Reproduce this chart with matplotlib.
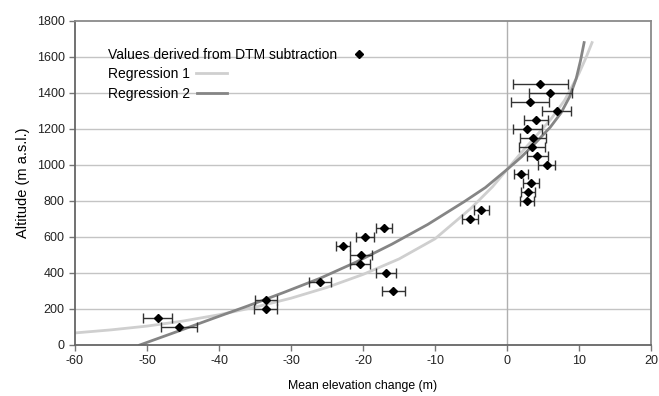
import matplotlib
matplotlib.use('Agg')
import matplotlib.pyplot as plt
import numpy as np

plt.rcParams['font.family'] = ['Liberation Sans', 'DejaVu Sans']
plt.rcParams['axes.unicode_minus'] = False

# DTM subtraction values: altitude (m a.s.l.), mean elevation change (m), error
altitude = [1450, 1400, 1350, 1300, 1250, 1200, 1150, 1100, 1050, 1000, 950, 900, 850, 800,
            750, 700, 650, 600, 550, 500, 450, 400, 350, 300, 250, 200, 150, 100]
elev_change = [4.6, 6.0, 3.2, 6.9, 4.0, 2.8, 3.6, 3.5, 4.2, 5.5, 1.9, 3.3, 2.9, 2.8,
               -3.6, -5.1, -17.1, -19.7, -22.8, -20.3, -20.4, -16.8, -26.0, -15.8, -33.5, -33.5, -48.5, -45.6]
elev_err = [3.8, 3.0, 2.6, 2.0, 1.7, 2.0, 1.8, 1.8, 1.5, 1.2, 1.0, 1.1, 1.0, 1.0,
            1.05, 1.1, 1.1, 1.25, 1.0, 1.5, 1.4, 1.4, 1.5, 1.6, 1.5, 1.6, 2.0, 2.5]

# regression curves
reg1_x = [-60, -55, -50, -45, -40, -35, -30, -25, -20, -15, -10, -5, -2, 0, 2, 4, 6, 8, 10, 11, 11.8]
reg1_y = [67, 84, 105, 133, 168, 210, 260, 320, 392, 478, 590, 760, 880, 975, 1070, 1160, 1250, 1360, 1510, 1600, 1680]
reg2_x = [-51, -46, -41, -36, -31, -26, -21, -16, -11, -6, -3, 0, 2, 4, 6, 7.5, 8.7, 9.6, 10.2, 10.7]
reg2_y = [0, 72, 145, 217, 292, 370, 460, 560, 670, 795, 875, 975, 1045, 1125, 1210, 1290, 1380, 1480, 1580, 1680]

xticks = np.arange(-60, 21, 10)
yticks = np.arange(0, 1801, 200)

fig = plt.figure(figsize=(6.59, 3.96), dpi=100)
ax = fig.add_axes([0.1138, 0.1288, 0.8742, 0.8182])

for y in yticks[1:-1]:
    ax.axhline(y, color='#c4c4c4', lw=1.0, zorder=0)
ax.axvline(0, color='#b0b0b0', lw=1.0, zorder=0)

l1, = ax.plot(reg1_x, reg1_y, color='#cfcfcf', lw=2.0, zorder=2)
l2, = ax.plot(reg2_x, reg2_y, color='#858585', lw=2.0, zorder=2)
eb = ax.errorbar(elev_change, altitude, xerr=elev_err, fmt='D', color='black', ms=4.5,
                 ecolor='#333333', elinewidth=1.0, capsize=3.5, capthick=1.0, zorder=3)

ax.set_xlim(-60, 20)
ax.set_ylim(0, 1800)
ax.set_xticks(xticks)
ax.set_yticks(yticks)
ax.tick_params(axis='both', labelsize=9, colors='#222222', length=4, width=1)
ax.tick_params(axis='both', color='#777777')
for s in ['top', 'right']:
    ax.spines[s].set_color('#8a8a8a')
for s in ['left', 'bottom']:
    ax.spines[s].set_color('#666666')
for s in ax.spines.values():
    s.set_linewidth(1.3)

ax.set_xlabel('Mean elevation change (m)', fontsize=8.8, labelpad=9)
ax.set_ylabel('Altitude (m a.s.l.)', fontsize=10.5, labelpad=5)

leg = ax.legend([eb[0], l1, l2],
                ['Values derived from DTM subtraction', 'Regression 1', 'Regression 2'],
                loc='upper left', bbox_to_anchor=(0.035, 0.955), frameon=False, markerfirst=False,
                fontsize=10, handlelength=2.2, handletextpad=0.5, labelspacing=0.38)
for col in leg._legend_handle_box.get_children():
    col.align = 'left'

fig.savefig('out.png', dpi=100)
